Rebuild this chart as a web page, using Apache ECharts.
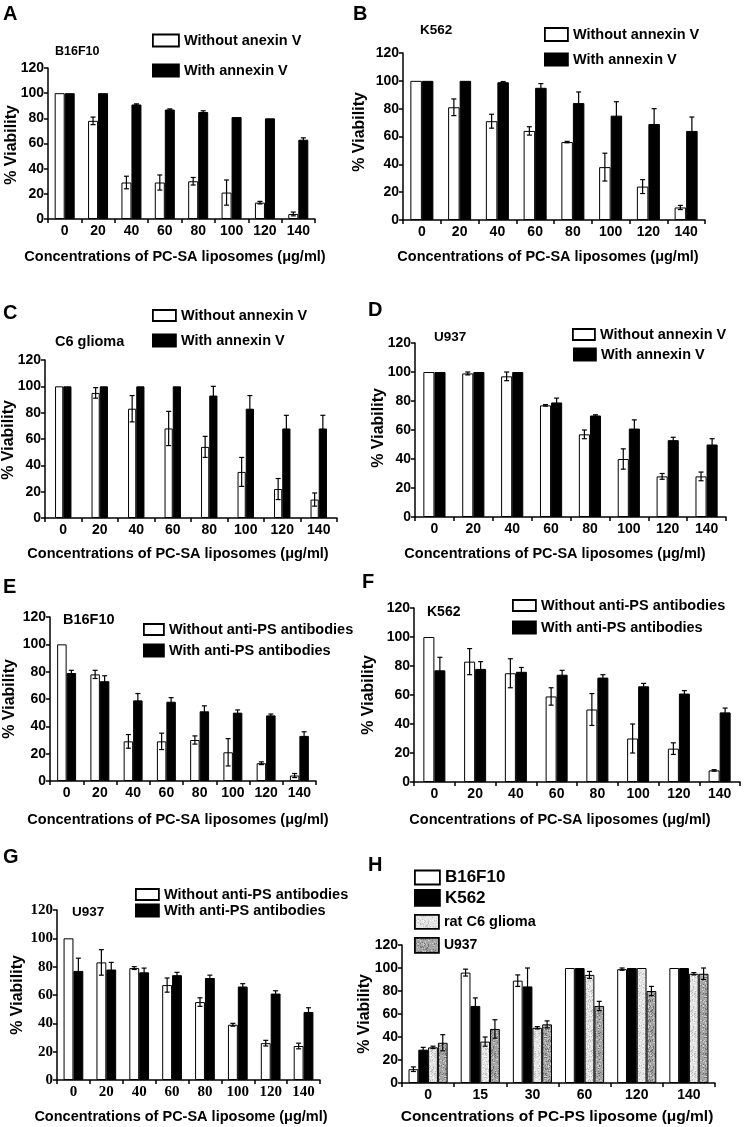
<!DOCTYPE html>
<html><head><meta charset="utf-8">
<script src="https://cdn.jsdelivr.net/npm/echarts@6/dist/echarts.min.js"></script>
<style>html,body{margin:0;padding:0;background:#fff}#c{width:744px;height:1127px}</style>
</head><body><div id="c"></div>
<script>
// ---------- categories ----------
const catsSA = ['0','20','40','60','80','100','120','140'];
const catsPS = ['0','15','30','60','120','140'];

// ---------- A: B16F10, annexin V ----------
const aWithout = [100,78,29,29,30,21,13,4];
const aWithoutErr = [0,3,5,6,3,10,1,1.5];
const aWith = [100,100,91,87,85,81,80,63];
const aWithErr = [0,0,0.5,0.5,1,0,0,1.5];
// ---------- B: K562, annexin V ----------
const bWithout = [100,81,71,64,56,38,24,9];
const bWithoutErr = [0,6,5,3,0.5,10,5,1.5];
const bWith = [100,100,99,95,84,75,69,64];
const bWithErr = [0,0,0.5,3,8,10,11,10];
// ---------- C: C6 glioma, annexin V ----------
const cWithout = [100,95,83,68,54,35,22,14];
const cWithoutErr = [0,4,10,13,8,11,8,5];
const cWith = [100,100,100,100,93,83,68,68];
const cWithErr = [0,0,0,0,7,10,10,10];
// ---------- D: U937, annexin V ----------
const dWithout = [100,99,97,77,57,40,28,28];
const dWithoutErr = [0,1,3,0.5,3,7,2,3];
const dWith = [100,100,100,79,70,61,53,50];
const dWithErr = [0,0,0,3,0.5,6,2,4];
// ---------- E: B16F10, anti-PS ----------
const eWithout = [100,78,29,29,30,21,13,4];
const eWithoutErr = [0,3,5,6,3,10,1,1.5];
const eWith = [79,73,59,58,51,50,48,33];
const eWithErr = [2,4,5,3,4,2,1,3];
// ---------- F: K562, anti-PS ----------
const fWithout = [100,83,75,59,50,30,23,8];
const fWithoutErr = [0,9,10,6,11,10,4,0.5];
const fWith = [77,78,76,74,72,66,61,48];
const fWithErr = [9,5,3,3,2,2,2,3];
// ---------- G: U937, anti-PS ----------
const gWithout = [100,83,79,67,55,39,26,24];
const gWithoutErr = [0,9,1,5,3,1,2,2];
const gWith = [77,78,76,74,72,66,61,48];
const gWithErr = [9,5,3,2,2,2,2,3];
// ---------- H: PC-PS liposomes ----------
const hB16 = [12,96,89,100,99,100];
const hB16Err = [2,3,5,0,1,0];
const hK562 = [29,67,84,100,100,100];
const hK562Err = [2,7,16,0,0,0];
const hC6 = [31,36,48,94,100,95];
const hC6Err = [1,4,1,3,0,1];
const hU937 = [35,47,51,67,80,95];
const hU937Err = [7,8,3,4,4,5];

const SANS = '"Liberation Sans", Arial, sans-serif';
const SERIF = '"Liberation Serif", "Times New Roman", serif';

function speckle(base, c1, c2) {
  const cv = document.createElement('canvas'); cv.width = cv.height = 20;
  const g = cv.getContext('2d'); g.fillStyle = base; g.fillRect(0,0,20,20);
  let s = 7;
  for (let i = 0; i < 140; i++) {
    s = (Math.imul(s, 1103515245) + 12345) >>> 0; const x = (s >>> 8) % 20;
    s = (Math.imul(s, 1103515245) + 12345) >>> 0; const y = (s >>> 8) % 20;
    g.fillStyle = (i % 2) ? c1 : c2; g.fillRect(x, y, 1, 1);
  }
  return { image: cv, repeat: 'repeat' };
}
const WHITE = '#ffffff', BLACK = '#000000';
const C6FILL = speckle('#e4e4e4', '#c0c0c0', '#fafafa');
const U937FILL = speckle('#a4a4a4', '#707070', '#cfcfcf');

function errRender(n, k, gap) {
  return function (params, api) {
    const i = api.value(0), v = api.value(1), e = api.value(2);
    if (!e) return null;
    const bw = api.size([1, 0])[0];
    const w = bw * (1 - gap) / n;
    const cx = api.coord([i, v])[0] + (k - n / 2 + 0.5) * w;
    const yt = api.coord([i, v + e])[1], yb = api.coord([i, Math.max(0, v - e)])[1];
    const cap = 2.5;
    const st = { stroke: '#000', lineWidth: 1.2 };
    return { type: 'group', children: [
      { type: 'line', shape: { x1: cx, y1: yt, x2: cx, y2: yb }, style: st },
      { type: 'line', shape: { x1: cx - cap, y1: yt, x2: cx + cap, y2: yt }, style: st },
      { type: 'line', shape: { x1: cx - cap, y1: yb, x2: cx + cap, y2: yb }, style: st }
    ]};
  };
}

const LF = 14.5; // legend font size
const panels = [
  { letter:'A', lx:3, ly:14, grid:{left:48,top:68,width:267,height:151}, gap:0.40, cats:catsSA,
    cell:{t:'B16F10', x:55, y:52, fs:12.5},
    xt:{t:'Concentrations of PC-SA liposomes (\u03bcg/ml)', x:175, y:257}, yt:{x:12, y:145},
    series:[{name:'Without anexin V', d:aWithout, e:aWithoutErr, c:WHITE},{name:'With annexin V', d:aWith, e:aWithErr, c:BLACK}],
    legs:[{l:152,t:33,w:26,h:12,fs:LF},{l:152,t:63,w:26,h:12,fs:LF}] },
  { letter:'B', lx:353, ly:14, grid:{left:403,top:53,width:302,height:167}, gap:0.39, cats:catsSA,
    cell:{t:'K562', x:420, y:30, fs:13.5},
    xt:{t:'Concentrations of PC-SA liposomes (\u03bcg/ml)', x:548, y:257}, yt:{x:360, y:132},
    series:[{name:'Without annexin V', d:bWithout, e:bWithoutErr, c:WHITE},{name:'With annexin V', d:bWith, e:bWithErr, c:BLACK}],
    legs:[{l:544,t:27,w:23,h:13,fs:LF},{l:544,t:52,w:23,h:12,fs:LF}] },
  { letter:'C', lx:3, ly:313, grid:{left:45,top:360,width:292,height:158}, gap:0.55, cats:catsSA,
    cell:{t:'C6 glioma', x:55, y:342, fs:14.5},
    xt:{t:'Concentrations of PC-SA liposomes (\u03bcg/ml)', x:178, y:554}, yt:{x:9, y:440},
    series:[{name:'Without annexin V', d:cWithout, e:cWithoutErr, c:WHITE},{name:'With annexin V', d:cWith, e:cWithErr, c:BLACK}],
    legs:[{l:152,t:308,w:23,h:11,fs:LF},{l:152,t:333,w:23,h:12,fs:LF}] },
  { letter:'D', lx:368, ly:310, grid:{left:415,top:343,width:311,height:174}, gap:0.43, cats:catsSA,
    cell:{t:'U937', x:434, y:337, fs:13.5},
    xt:{t:'Concentrations of PC-SA liposomes (\u03bcg/ml)', x:555, y:554}, yt:{x:379, y:428},
    series:[{name:'Without annexin V', d:dWithout, e:dWithoutErr, c:WHITE},{name:'With annexin V', d:dWith, e:dWithErr, c:BLACK}],
    legs:[{l:572,t:327,w:22,h:11,fs:LF},{l:573,t:347,w:22,h:12,fs:LF}] },
  { letter:'E', lx:3, ly:587, grid:{left:50,top:617,width:266,height:164}, gap:0.43, cats:catsSA,
    cell:{t:'B16F10', x:63, y:620, fs:14.5},
    xt:{t:'Concentrations of PC-SA liposomes (\u03bcg/ml)', x:178, y:820}, yt:{x:10, y:699},
    series:[{name:'Without anti-PS antibodies', d:eWithout, e:eWithoutErr, c:WHITE},{name:'With anti-PS antibodies', d:eWith, e:eWithErr, c:BLACK}],
    legs:[{l:143,t:622,w:20,h:11,fs:LF},{l:143,t:643,w:20,h:12,fs:LF}] },
  { letter:'F', lx:362, ly:582, grid:{left:414,top:608,width:326,height:174}, gap:0.46, cats:catsSA,
    cell:{t:'K562', x:427, y:612, fs:14},
    xt:{t:'Concentrations of PC-SA liposomes (\u03bcg/ml)', x:560, y:820}, yt:{x:369, y:695},
    series:[{name:'Without anti-PS antibodies', d:fWithout, e:fWithoutErr, c:WHITE},{name:'With anti-PS antibodies', d:fWith, e:fWithErr, c:BLACK}],
    legs:[{l:512,t:598,w:23,h:11,fs:LF},{l:512,t:620,w:23,h:12,fs:LF}] },
  { letter:'G', lx:3, ly:857, grid:{left:57,top:910,width:263,height:170}, gap:0.40, cats:catsSA, serif:true,
    cell:{t:'U937', x:72, y:912, fs:13.5},
    xt:{t:'Concentrations of PC-SA liposome (\u03bcg/ml)', x:181, y:1117}, yt:{x:18, y:995},
    series:[{name:'Without anti-PS antibodies', d:gWithout, e:gWithoutErr, c:WHITE},{name:'With anti-PS antibodies', d:gWith, e:gWithErr, c:BLACK}],
    legs:[{l:135,t:887,w:23,h:11,fs:LF},{l:135,t:903,w:23,h:12,fs:LF}] },
  { letter:'H', lx:368, ly:865, grid:{left:402,top:945,width:313,height:138}, gap:0.25, cats:catsPS,
    cell:null, xfs:15.5,
    xt:{t:'Concentrations of PC-PS liposome (\u03bcg/ml)', x:557, y:1117}, yt:{x:365, y:1014},
    series:[{name:'B16F10', d:hB16, e:hB16Err, c:WHITE},{name:'K562', d:hK562, e:hK562Err, c:BLACK},
            {name:'rat C6 glioma', d:hC6, e:hC6Err, c:C6FILL},{name:'U937', d:hU937, e:hU937Err, c:U937FILL}],
    legs:[{l:414,t:869,w:25,h:14,fs:17},{l:414,t:889,w:25,h:16,fs:17},{l:414,t:914,w:24,h:14,fs:14.5},{l:414,t:937,w:24,h:15,fs:14}] }
];

const option = { animation:false, backgroundColor:'#fff', grid:[], xAxis:[], yAxis:[], series:[], legend:[], graphic:[] };
const axisLine = { show:true, lineStyle:{ color:'#000', width:1.5 } };
const axisTick = { show:true, length:4, lineStyle:{ color:'#000', width:1.5 } };

panels.forEach((p, gi) => {
  const lblFont = p.serif ? SERIF : SANS;
  const tfs = p.serif ? 15 : 14;
  option.grid.push(Object.assign({ containLabel:false }, p.grid));
  option.xAxis.push({ type:'category', gridIndex:gi, data:p.cats, axisLine, axisTick,
    axisLabel:{ color:'#000', fontFamily:lblFont, fontWeight:'bold', fontSize:tfs, margin:5 }, splitLine:{show:false} });
  option.yAxis.push({ type:'value', gridIndex:gi, min:0, max:120, interval:20, axisLine, axisTick,
    axisLabel:{ color:'#000', fontFamily:lblFont, fontWeight:'bold', fontSize:tfs, margin:4 }, splitLine:{show:false} });
  const n = p.series.length;
  p.series.forEach((s, k) => {
    option.series.push({ type:'bar', name:s.name, xAxisIndex:gi, yAxisIndex:gi, data:s.d,
      barGap:'0%', barCategoryGap:(p.gap*100)+'%', silent:true, z:2,
      itemStyle:{ color:s.c, borderColor:'#000', borderWidth:1 } });
    option.series.push({ type:'custom', xAxisIndex:gi, yAxisIndex:gi, silent:true, z:3,
      data:s.d.map((v, i) => [i, v, s.e[i]]), renderItem:errRender(n, k, p.gap) });
    const L = p.legs[k];
    option.legend.push({ left:L.l, top:L.t, orient:'vertical', padding:0, itemGap:0,
      itemWidth:L.w, itemHeight:L.h, icon:'rect', selectedMode:false,
      itemStyle:{ borderColor:'#000', borderWidth:1.8 },
      textStyle:{ color:'#000', fontFamily:SANS, fontWeight:'bold', fontSize:L.fs, lineHeight:L.h },
      data:[s.name] });
  });
  const txt = (t, x, y, fs, align, extra) => Object.assign({ type:'text', x, y, silent:true,
    style:{ text:t, fill:'#000', fontFamily:SANS, fontWeight:'bold', fontSize:fs, align:align, verticalAlign:'middle' } }, extra || {});
  option.graphic.push(txt(p.letter, p.lx, p.ly, 20, 'left'));
  if (p.cell) option.graphic.push(txt(p.cell.t, p.cell.x, p.cell.y, p.cell.fs, 'left'));
  option.graphic.push(txt(p.xt.t, p.xt.x, p.xt.y, p.xfs || 14.5, 'center'));
  option.graphic.push(txt('% Viability', p.yt.x, p.yt.y, 16, 'center', { rotation: Math.PI / 2 }));
});

const chart = echarts.init(document.getElementById('c'), null, { renderer:'canvas' });
chart.setOption(option);
</script>
</body></html>
